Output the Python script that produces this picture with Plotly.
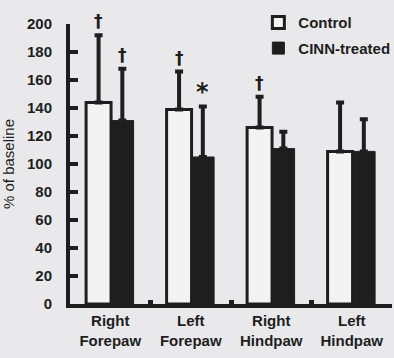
import plotly.graph_objects as go

categories = ["Right<br>Forepaw", "Left<br>Forepaw", "Right<br>Hindpaw", "Left<br>Hindpaw"]
control_vals = [144, 139, 126, 109]
control_err = [48, 27, 22, 35]
cinn_vals = [131, 105, 111, 109]
cinn_err = [37, 36, 12, 23]
# significance marks: (category index, series, symbol)
marks = [(0, "control", "†"), (0, "cinn", "†"), (1, "control", "†"), (1, "cinn", "*"), (2, "control", "†")]
y_ticks = [0, 20, 40, 60, 80, 100, 120, 140, 160, 180, 200]

DARK = "#1e1e1e"
BG = "#e9e9eb"
FONT = "Liberation Sans, Arial, sans-serif"

ctrl_off, ctrl_w = -0.30, 0.31
cinn_off, cinn_w = 0.01, 0.28

fig = go.Figure()
fig.add_trace(go.Bar(
    name="Control", x=categories, y=control_vals, legendgroup="a",
    offset=ctrl_off, width=ctrl_w,
    marker=dict(color="#f3f3f3", line=dict(color=DARK, width=3)),
    error_y=dict(type="data", array=control_err, arrayminus=[0]*4, symmetric=False,
                 color=DARK, thickness=4, width=4),
))
fig.add_trace(go.Bar(
    name="CINN-treated", x=categories, y=cinn_vals, legendgroup="b",
    offset=cinn_off, width=cinn_w,
    marker=dict(color=DARK, line=dict(color=DARK, width=1)),
    error_y=dict(type="data", array=cinn_err, arrayminus=[0]*4, symmetric=False,
                 color=DARK, thickness=4, width=4),
))

for idx, series, sym in marks:
    if series == "control":
        xc = idx + ctrl_off + ctrl_w / 2
        top = control_vals[idx] + control_err[idx]
    else:
        xc = idx + cinn_off + cinn_w / 2
        top = cinn_vals[idx] + cinn_err[idx]
    fig.add_annotation(x=xc, y=top, text="<b>%s</b>" % sym, showarrow=False, yanchor="bottom",
                       yshift=2 if sym == "†" else -1,
                       font=dict(family="DejaVu Sans, sans-serif", size=17 if sym == "†" else 24, color=DARK))

fig.update_layout(
    width=394, height=358,
    margin=dict(l=70, r=2, t=24, b=54, autoexpand=False),
    paper_bgcolor=BG, plot_bgcolor=BG,
    barmode="group",
    font=dict(family=FONT, color=DARK),
    showlegend=True,
    legend=dict(x=0.585, y=1.063, xanchor="left", yanchor="top",
                bgcolor="rgba(0,0,0,0)", font=dict(size=15, family=FONT, color=DARK, weight="bold"),
                itemwidth=30, tracegroupgap=3, traceorder="grouped"),
)
fig.update_xaxes(
    type="category", range=[-0.5, 3.5],
    showline=True, linecolor=DARK, linewidth=4,
    ticks="inside", tickson="boundaries", ticklen=4, tickwidth=5, tickcolor=DARK,
    tickfont=dict(size=15, family=FONT, color=DARK, weight="bold"),
    showgrid=False, zeroline=False, automargin=False,
)
fig.update_yaxes(
    range=[0, 200], tickvals=y_ticks,
    showline=True, linecolor=DARK, linewidth=4,
    ticks="inside", ticklen=8, tickwidth=4, tickcolor=DARK,
    ticklabelstandoff=11,
    tickfont=dict(size=15, family=FONT, color=DARK, weight="bold"),
    showgrid=False, zeroline=False, automargin=False,
    title=dict(text="% of baseline", font=dict(size=15, family=FONT, color=DARK), standoff=15),
)

fig.write_html(
    "out.html",
    config={"displayModeBar": False},
    post_script="document.body.style.margin='0';document.body.style.background='%s';" % BG,
)
